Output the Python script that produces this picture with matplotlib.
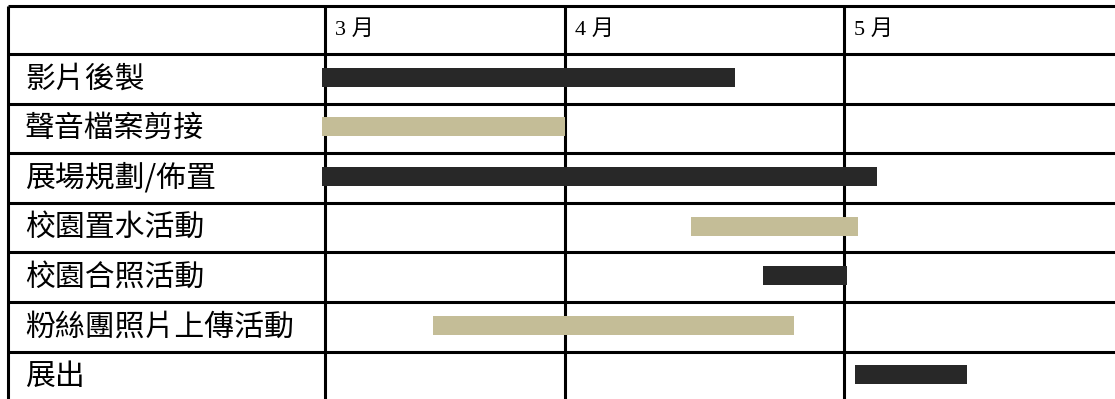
import numpy as np
import matplotlib
matplotlib.use("Agg")
from matplotlib import pyplot as plt

plt.rcParams["font.family"] = ["Noto Sans CJK TC", "DejaVu Sans"]

# tasks and schedule, in months (3.0 = start of March, 4.0 = start of April ...)
tasks = ["影片後製", "聲音檔案剪接", "展場規劃/佈置", "校園置水活動",
         "校園合照活動", "粉絲團照片上傳活動", "展出"]
starts = [2.99, 2.99, 2.99, 4.45, 4.71, 3.45, 5.04]
ends = [4.61, 4.0, 5.12, 5.05, 5.01, 4.82, 5.44]
kinds = ["dark", "tan", "dark", "tan", "dark", "tan", "dark"]
months = ["3 月", "4 月", "5 月"]
month_starts = [3, 4, 5]

colors = {"dark": "#282828", "tan": "#c4bd97"}

# table layout: column edges (month value -> pixel), column widths differ
col_month = np.array([1.0, 2.0, 3.0, 4.0, 5.0, 6.0, 7.0])
col_px = np.array([-309.0, 8.0, 325.0, 565.0, 844.0, 1123.0, 1402.0])


def fwd(x):
    return np.interp(x, col_month, col_px)


def inv(p):
    return np.interp(p, col_px, col_month)


W, H = 1115, 399
fig = plt.figure(figsize=(W / 100, H / 100), dpi=100)
ax = fig.add_axes([0, 0, 1, 1])
ax.set_xscale("function", functions=(fwd, inv))
ax.set_xlim(inv(0), inv(W))

# rows: task i sits in [i, i+1]; header above 0
row_h = 49.6
top0 = 54.0
ax.set_ylim((H - top0) / row_h, -top0 / row_h)
head_top = -48.0 / row_h
n = len(tasks)

lw = 2.2
x_left = 2.0
x_right = inv(W + 10)
# horizontal lines
for yy in [head_top] + list(range(0, n + 1)):
    ax.plot([x_left, x_right], [yy, yy], color="black", lw=lw,
            solid_capstyle="butt", zorder=1)
# vertical lines
for xx in [x_left] + month_starts:
    ax.plot([xx, xx], [head_top, n], color="black", lw=lw,
            solid_capstyle="butt", zorder=1)

# bars
ax.barh(np.arange(n) + 0.47, np.array(ends) - np.array(starts), left=starts,
        height=0.385, color=[colors[k] for k in kinds], zorder=2)

# labels
label_x = inv(25)
for i, t in enumerate(tasks):
    ax.text(label_x, i + 0.5, t, fontsize=21.5, va="center", ha="left",
            color="black")
for m, xs in zip(months, month_starts):
    ax.text(inv(fwd(xs) + 10), head_top / 2, m, fontsize=16, va="center",
            ha="left", color="black",
            family=["Liberation Serif", "Noto Sans CJK TC"])

ax.axis("off")
fig.savefig("out.png", dpi=100)
